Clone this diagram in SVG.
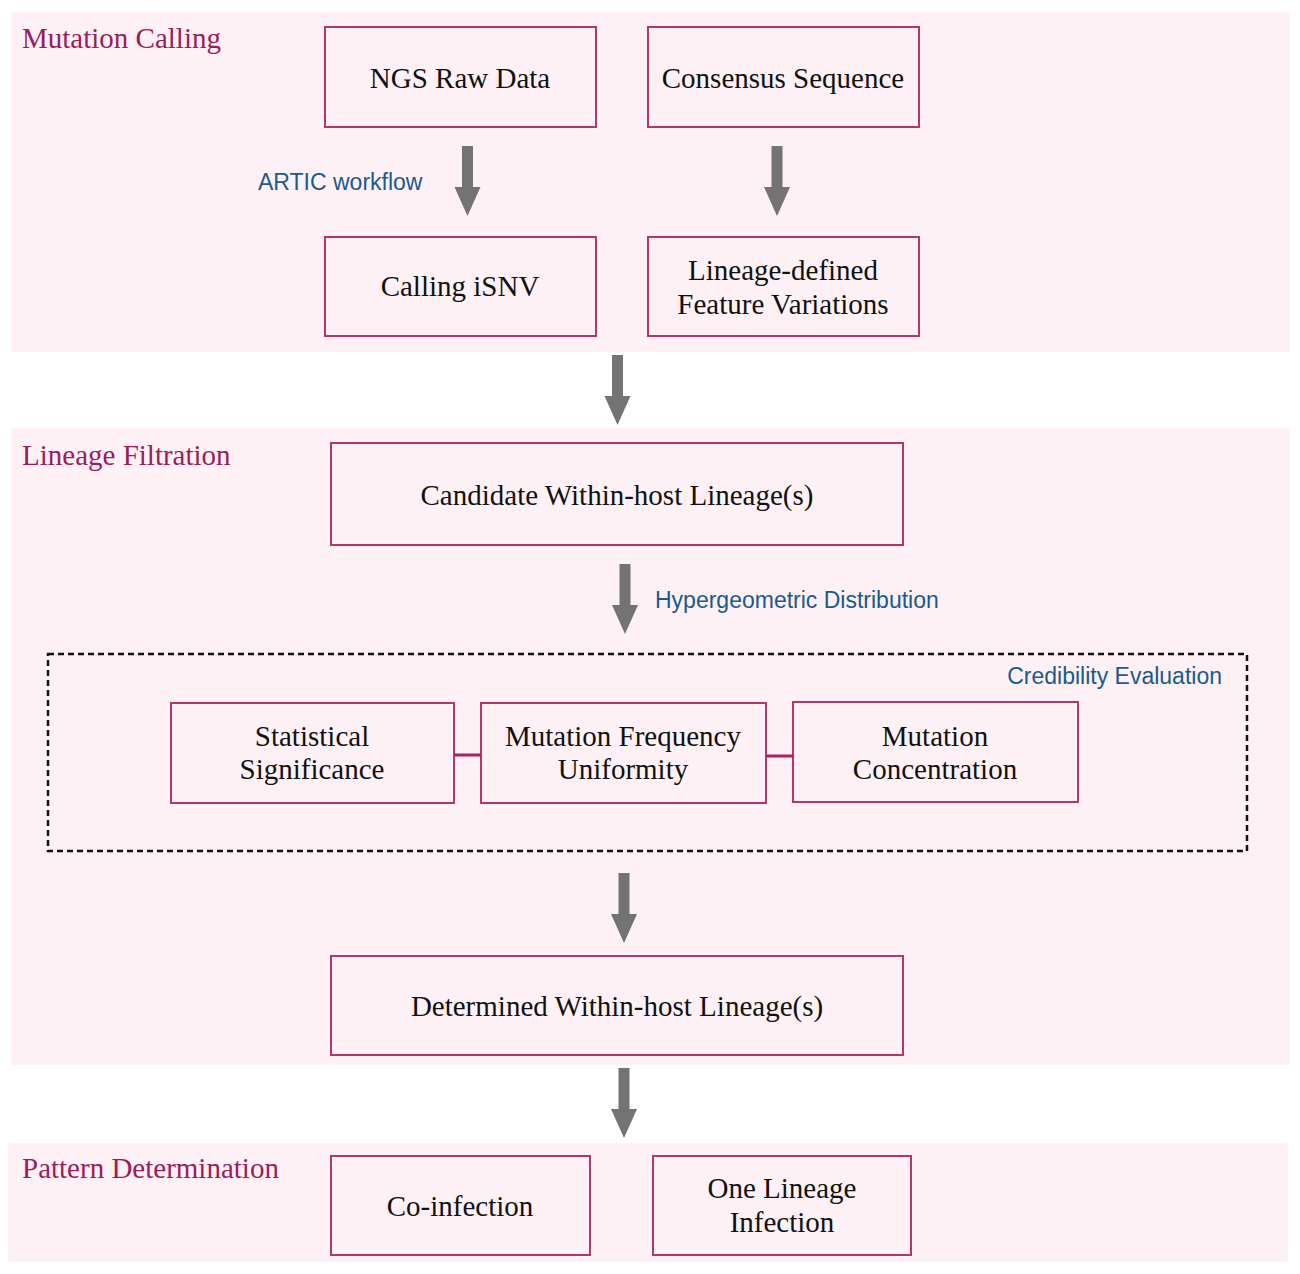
<svg xmlns="http://www.w3.org/2000/svg" width="1300" height="1274" viewBox="0 0 1300 1274">
  <style>
    .panel { fill: #fdf1f5; }
    .box { fill: none; stroke: #b2376f; stroke-width: 2; }
    .label { font-family: "Liberation Serif", "Times New Roman", serif; font-size: 29px; fill: #111; text-anchor: middle; }
    .title { font-family: "Liberation Serif", "Times New Roman", serif; font-size: 29px; fill: #9c1c5b; }
    .note { font-family: "Liberation Sans", Arial, sans-serif; font-size: 23px; fill: #1b5a8c; }
    .link { stroke: #a8205f; stroke-width: 3; fill: none; }
    .arrow { fill: #737373; }
    .frame { fill: none; stroke: #111; stroke-width: 2.5; stroke-dasharray: 6 4; }
  </style>
  <defs>
    <!-- block arrow pointing down, origin at top centre of the shaft -->
    <path id="down-arrow" d="M-5.5,0 H5.5 V41 H13 L0,70 L-13,41 H-5.5 Z"/>
  </defs>

  <rect width="1300" height="1274" fill="#ffffff"/>

  <!-- stage panels -->
  <g id="panel-mutation-calling">
    <rect class="panel" x="11" y="12" width="1279" height="340"/>
    <text class="title" x="22" y="48">Mutation Calling</text>
  </g>
  <g id="panel-lineage-filtration">
    <rect class="panel" x="11" y="428" width="1279" height="637"/>
    <text class="title" x="22" y="465">Lineage Filtration</text>
  </g>
  <g id="panel-pattern-determination">
    <rect class="panel" x="8" y="1143" width="1280" height="119"/>
    <text class="title" x="22" y="1178">Pattern Determination</text>
  </g>

  <!-- credibility evaluation frame -->
  <g id="credibility-evaluation">
    <rect class="frame" x="48" y="654" width="1199" height="197"/>
    <text class="note" x="1222" y="684" text-anchor="end">Credibility Evaluation</text>
  </g>

  <!-- nodes -->
  <g id="ngs-raw-data">
    <rect class="box" x="325" y="27" width="271" height="100"/>
    <text class="label" x="460" y="88">NGS Raw Data</text>
  </g>
  <g id="consensus-sequence">
    <rect class="box" x="648" y="27" width="271" height="100"/>
    <text class="label" x="783" y="88">Consensus Sequence</text>
  </g>
  <g id="calling-isnv">
    <rect class="box" x="325" y="237" width="271" height="99"/>
    <text class="label" x="460" y="296">Calling iSNV</text>
  </g>
  <g id="lineage-defined">
    <rect class="box" x="648" y="237" width="271" height="99"/>
    <text class="label" x="783" y="280">Lineage-defined</text>
    <text class="label" x="783" y="314">Feature Variations</text>
  </g>
  <g id="candidate-lineages">
    <rect class="box" x="331" y="443" width="572" height="102"/>
    <text class="label" x="617" y="505">Candidate Within-host Lineage(s)</text>
  </g>
  <g id="statistical-significance">
    <rect class="box" x="171" y="703" width="283" height="100"/>
    <text class="label" x="312" y="746">Statistical</text>
    <text class="label" x="312" y="779">Significance</text>
  </g>
  <g id="mutation-frequency-uniformity">
    <rect class="box" x="481" y="703" width="285" height="100"/>
    <text class="label" x="623" y="746">Mutation Frequency</text>
    <text class="label" x="623" y="779">Uniformity</text>
  </g>
  <g id="mutation-concentration">
    <rect class="box" x="793" y="702" width="285" height="100"/>
    <text class="label" x="935" y="746">Mutation</text>
    <text class="label" x="935" y="779">Concentration</text>
  </g>
  <g id="determined-lineages">
    <rect class="box" x="331" y="956" width="572" height="99"/>
    <text class="label" x="617" y="1016">Determined Within-host Lineage(s)</text>
  </g>
  <g id="co-infection">
    <rect class="box" x="331" y="1156" width="259" height="99"/>
    <text class="label" x="460" y="1216">Co-infection</text>
  </g>
  <g id="one-lineage-infection">
    <rect class="box" x="653" y="1156" width="258" height="99"/>
    <text class="label" x="782" y="1198">One Lineage</text>
    <text class="label" x="782" y="1232">Infection</text>
  </g>

  <!-- connectors -->
  <g id="connectors">
    <use href="#down-arrow" class="arrow" x="467.5" y="146"/>
    <use href="#down-arrow" class="arrow" x="777" y="146"/>
    <use href="#down-arrow" class="arrow" x="617.5" y="355"/>
    <use href="#down-arrow" class="arrow" x="625" y="564"/>
    <use href="#down-arrow" class="arrow" x="624" y="873"/>
    <use href="#down-arrow" class="arrow" x="624" y="1068"/>
    <line class="link" x1="454" y1="755" x2="481" y2="755"/>
    <line class="link" x1="766" y1="756" x2="793" y2="756"/>
    <text class="note" x="258" y="190">ARTIC workflow</text>
    <text class="note" x="655" y="608">Hypergeometric Distribution</text>
  </g>
</svg>
